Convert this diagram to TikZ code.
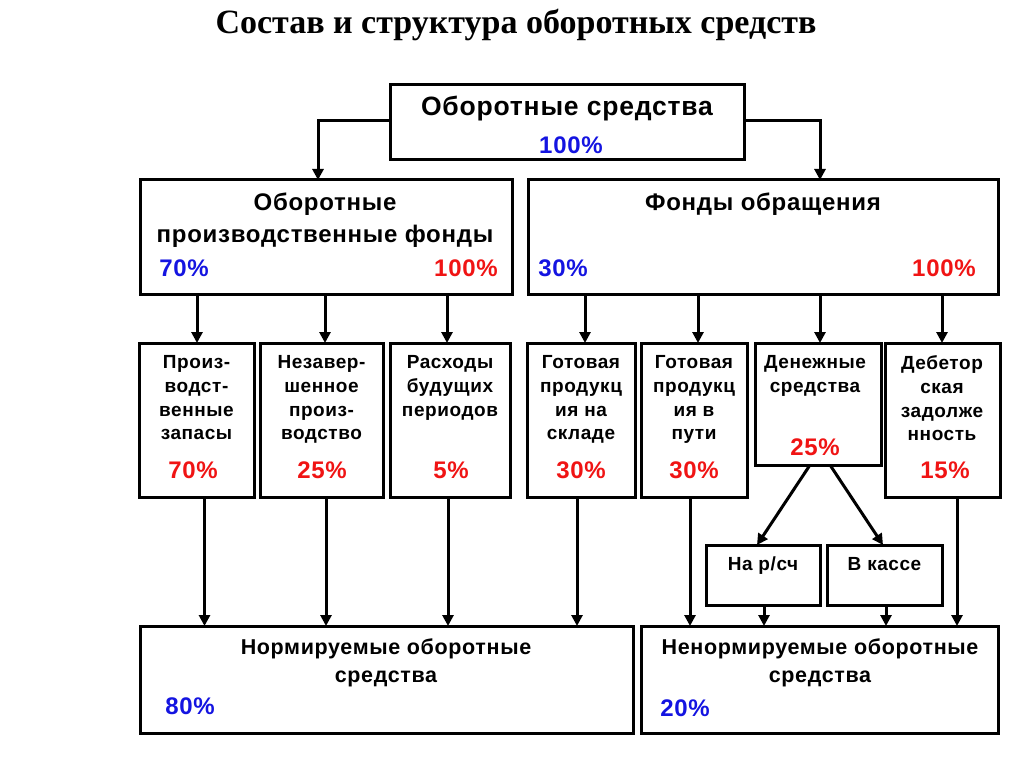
\documentclass[tikz,border=0pt]{standalone}
\usepackage{fontspec}
\setmainfont{Liberation Sans}[LetterSpace=3]
\newfontfamily\titlefont{Liberation Serif}
\usetikzlibrary{arrows.meta}
\definecolor{pblue}{RGB}{20,20,225}
\definecolor{pred}{RGB}{240,20,20}
\begin{document}
\begin{tikzpicture}[x=1pt,y=-1pt,
  box/.style={draw, line width=3pt, inner sep=0pt, outer sep=0pt},
  arr/.style={-{Triangle[length=11pt,width=11pt]}, line width=3pt},
  lbl/.style={font=\bfseries\fontsize{19}{23.7}\selectfont, align=center, inner sep=0pt},
  head/.style={font=\bfseries\fontsize{24}{30}\selectfont, align=center, inner sep=0pt},
  pct/.style={font=\bfseries\fontsize{24}{28}\selectfont, inner sep=0pt},
  foot/.style={font=\bfseries\fontsize{21.5}{28}\selectfont, align=center, inner sep=0pt}
]
\useasboundingbox[fill=white] (0,0) rectangle (1024,767);
% title
\node[font=\titlefont\bfseries\fontsize{34}{38}\selectfont, inner sep=0pt] (title) at (516,25) {Состав и структура оборотных средств};
% boxes
\node[box, minimum width=354pt, minimum height=75pt] (top) at (567,122.5) {};
\node[box, minimum width=372pt, minimum height=114pt] (opf) at (326,237) {};
\node[box, minimum width=470pt, minimum height=114pt] (fo) at (763,237) {};
\node[box, minimum width=115pt, minimum height=154pt] (a) at (196.5,420) {};
\node[box, minimum width=123pt, minimum height=154pt] (b) at (321.5,420) {};
\node[box, minimum width=120pt, minimum height=154pt] (c) at (450,420) {};
\node[box, minimum width=108pt, minimum height=154pt] (d) at (581,420) {};
\node[box, minimum width=106pt, minimum height=154pt] (e) at (694,420) {};
\node[box, minimum width=126pt, minimum height=122pt] (f) at (818,404) {};
\node[box, minimum width=115pt, minimum height=154pt] (g) at (942.5,420) {};
\node[box, minimum width=114pt, minimum height=60pt] (rs) at (763,575) {};
\node[box, minimum width=115pt, minimum height=60pt] (ks) at (884.5,575) {};
\node[box, minimum width=493pt, minimum height=107pt] (nl) at (386.5,679.5) {};
\node[box, minimum width=357pt, minimum height=107pt] (nr) at (819.5,679.5) {};
% texts
\node[head, font=\bfseries\fontsize{26.5}{30}\selectfont, anchor=base] (topT) at (567,116) {Оборотные средства};
\node[pct, text=pblue, anchor=base] (topP) at (571,154) {100\%};
\node[head, anchor=base] (opfT1) at (325,211) {Оборотные};
\node[head, anchor=base] (opfT2) at (325,242) {производственные фонды};
\node[pct, text=pblue, anchor=base] (opfP1) at (184,276) {70\%};
\node[pct, text=pred, anchor=base] (opfP2) at (466,276) {100\%};
\node[head, anchor=base] (foT) at (763,211) {Фонды обращения};
\node[pct, text=pblue, anchor=base] (foP1) at (563,276) {30\%};
\node[pct, text=pred, anchor=base] (foP2) at (944,276) {100\%};
\node[lbl, anchor=north] (aT) at (196.5,355.5) {Произ-\\водст-\\венные\\запасы};
\node[lbl, anchor=north] (bT) at (321.5,355.5) {Незавер-\\шенное\\произ-\\водство};
\node[lbl, anchor=north] (cT) at (450,355.5) {Расходы\\будущих\\периодов};
\node[lbl, anchor=north] (dT) at (581,355.5) {Готовая\\продукц\\ия на\\складе};
\node[lbl, anchor=north] (eT) at (694,355.5) {Готовая\\продукц\\ия в\\пути};
\node[lbl, anchor=north] (fT) at (815,355.5) {Денежные\\средства};
\node[lbl, anchor=north] (gT) at (942,355.5) {Дебетор\\ская\\задолже\\нность};
\node[pct, text=pred, anchor=base] (aP) at (193,478) {70\%};
\node[pct, text=pred, anchor=base] (bP) at (322,478) {25\%};
\node[pct, text=pred, anchor=base] (cP) at (451,478) {5\%};
\node[pct, text=pred, anchor=base] (dP) at (581,478) {30\%};
\node[pct, text=pred, anchor=base] (eP) at (694,478) {30\%};
\node[pct, text=pred, anchor=base] (fP) at (815,455) {25\%};
\node[pct, text=pred, anchor=base] (gP) at (945,478) {15\%};
\node[lbl, anchor=base] (rsT) at (763,570) {На р/сч};
\node[lbl, anchor=base] (ksT) at (884.5,570) {В кассе};
\node[foot, anchor=base] (nlT1) at (386,654) {Нормируемые оборотные};
\node[foot, anchor=base] (nlT2) at (386,682) {средства};
\node[pct, text=pblue, anchor=base] (nlP) at (190,714) {80\%};
\node[foot, anchor=base] (nrT1) at (820,654) {Ненормируемые оборотные};
\node[foot, anchor=base] (nrT2) at (820,682) {средства};
\node[pct, text=pblue, anchor=base] (nrP) at (685,716) {20\%};
% connectors
\draw[arr] ([yshift=1.5pt]top.west) -| ([xshift=-8pt]opf.north);
\draw[arr] ([yshift=1.5pt]top.east) -| ([xshift=57pt]fo.north);
\draw[arr] ([xshift=0.5pt]a.north |- opf.south) -- ([xshift=0.5pt]a.north);
\draw[arr] ([xshift=3.5pt]b.north |- opf.south) -- ([xshift=3.5pt]b.north);
\draw[arr] ([xshift=-3pt]c.north |- opf.south) -- ([xshift=-3pt]c.north);
\draw[arr] ([xshift=4pt]d.north |- fo.south) -- ([xshift=4pt]d.north);
\draw[arr] ([xshift=4pt]e.north |- fo.south) -- ([xshift=4pt]e.north);
\draw[arr] ([xshift=2pt]f.north |- fo.south) -- ([xshift=2pt]f.north);
\draw[arr] ([xshift=-0.5pt]g.north |- fo.south) -- ([xshift=-0.5pt]g.north);
\draw[arr] ([xshift=8pt]a.south) -- ([xshift=8pt]a.south |- nl.north);
\draw[arr] ([xshift=4.5pt]b.south) -- ([xshift=4.5pt]b.south |- nl.north);
\draw[arr] ([xshift=-2pt]c.south) -- ([xshift=-2pt]c.south |- nl.north);
\draw[arr] ([xshift=-4pt]d.south) -- ([xshift=-4pt]d.south |- nl.north);
\draw[arr] ([xshift=-4pt]e.south) -- ([xshift=-4pt]e.south |- nr.north);
\draw[arr] ([xshift=1pt]rs.south) -- ([xshift=1pt]rs.south |- nr.north);
\draw[arr] ([xshift=1.5pt]ks.south) -- ([xshift=1.5pt]ks.south |- nr.north);
\draw[arr] ([xshift=14.5pt]g.south) -- ([xshift=14.5pt]g.south |- nr.north);
\draw[arr] ([xshift=-8pt]f.south) -- ([xshift=-6pt]rs.north);
\draw[arr] ([xshift=12pt]f.south) -- ([xshift=-1.5pt]ks.north);
\end{tikzpicture}
\end{document}
